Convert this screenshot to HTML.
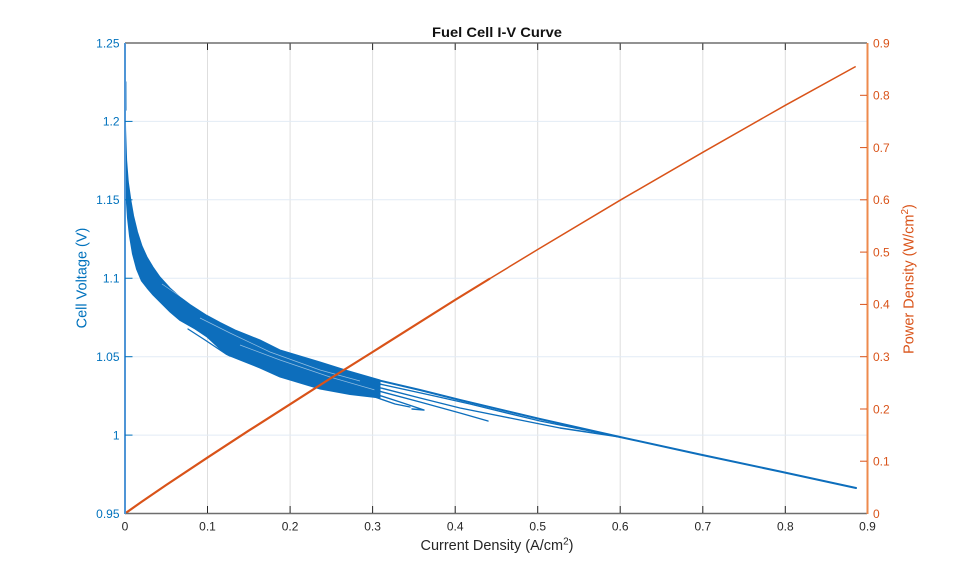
<!DOCTYPE html>
<html><head><meta charset="utf-8"><style>
html,body{margin:0;padding:0;background:#fff;}
svg{display:block;font-family:"Liberation Sans",Arial,sans-serif;}
</style></head><body>
<svg width="959" height="577" viewBox="0 0 959 577" xmlns="http://www.w3.org/2000/svg">
<rect width="959" height="577" fill="#fff"/>
<!-- grid -->
<g stroke="#dedede" stroke-width="1">
<line x1="207.5" y1="43" x2="207.5" y2="513.5"/>
<line x1="290.1" y1="43" x2="290.1" y2="513.5"/>
<line x1="372.6" y1="43" x2="372.6" y2="513.5"/>
<line x1="455.2" y1="43" x2="455.2" y2="513.5"/>
<line x1="537.7" y1="43" x2="537.7" y2="513.5"/>
<line x1="620.2" y1="43" x2="620.2" y2="513.5"/>
<line x1="702.8" y1="43" x2="702.8" y2="513.5"/>
<line x1="785.3" y1="43" x2="785.3" y2="513.5"/>
</g>
<g stroke="#e2ebf5" stroke-width="1">
<line x1="125" y1="435.1" x2="867" y2="435.1"/>
<line x1="125" y1="356.7" x2="867" y2="356.7"/>
<line x1="125" y1="278.25" x2="867" y2="278.25"/>
<line x1="125" y1="199.8" x2="867" y2="199.8"/>
<line x1="125" y1="121.4" x2="867" y2="121.4"/>
</g>
<!-- blue band -->
<g fill="#0d6ebc" stroke="#0d6ebc" stroke-linejoin="round">
<polygon stroke-width="1" points="125,95 125.6,130 126.6,160 128.3,182 130.8,200 133.6,216 137.5,232 142,246 147,257 153,267 160,277 170,288 180,297 190,304.5 200,311 207,315.5 220,322.5 235,330 250,336 260,340 280,350 300,356 320,362 347,370.5 380,380 380,398 350,394.5 320,389 300,383 280,377 260,368 240,360 230,356 220,349 207,337 195,329 180,320.5 170,312 160,302 153,295 147,288 141.5,281 136.5,269 132.5,254 129.5,236 127.5,218 126.3,200 125.6,175 125.2,140"/>
</g>
<!-- faint white streaks inside band -->
<g fill="none" stroke="#ffffff" stroke-opacity="0.55" stroke-width="0.7">
<polyline points="162,284 190,303 220,320 260,337 300,352"/>
<polyline points="200,318 230,333 270,352 320,370 360,381"/>
<polyline points="240,345 280,360 330,377 375,390"/>
</g>
<g fill="none" stroke="#0d6ebc" stroke-linejoin="round" stroke-linecap="round">
<polyline stroke-width="2" points="125.4,82 125.5,110"/>
<polyline stroke-width="2" points="375,379.5 420,390 460,400 540,419 620,437 700,454.5 780,471.5 856,488"/>
<polyline stroke-width="1.4" points="375,383 430,395 470,404 540,421 580,429 620,437"/>
<polyline stroke-width="1.4" points="375,386.5 420,398 460,408 510,418 560,428 620,437"/>
<polyline stroke-width="1.4" points="375,390 420,402 460,413 488,421"/>
<polyline stroke-width="1.4" points="375,394 400,402 424,410 412,409"/>
<polyline stroke-width="1.4" points="375,397 395,404 410,407"/>
<polyline stroke-width="1.3" points="188,329 205,340 226,354 230,356"/>
</g>
<!-- orange line -->
<polyline fill="none" stroke="#D95319" stroke-width="2.2" stroke-linejoin="round" points="125,513.5 141.5,501.9 166,485.1 207.5,457.6 248.8,430.6 290,404.3 331.4,377.8 372.6,352 455,300 490,278.5"/>
<polyline fill="none" stroke="#D95319" stroke-width="1.5" stroke-linejoin="round" points="489,279.1 537.7,249.5 620.2,200.2 702.8,152.3 785.3,105.3 855.7,66.5"/>
<!-- axes box -->
<line x1="125" y1="43" x2="867" y2="43" stroke="#6e6e6e" stroke-width="1.6"/>
<line x1="125" y1="513.5" x2="867" y2="513.5" stroke="#6e6e6e" stroke-width="1.6"/>
<line x1="125" y1="43" x2="125" y2="514" stroke="#4f95d6" stroke-width="2"/>
<line x1="867.5" y1="43" x2="867.5" y2="514" stroke="#ee8a4c" stroke-width="2"/>
<!-- x ticks -->
<g stroke="#262626" stroke-width="1">
<line x1="207.5" y1="513" x2="207.5" y2="506"/><line x1="207.5" y1="43.5" x2="207.5" y2="50"/>
<line x1="290.1" y1="513" x2="290.1" y2="506"/><line x1="290.1" y1="43.5" x2="290.1" y2="50"/>
<line x1="372.6" y1="513" x2="372.6" y2="506"/><line x1="372.6" y1="43.5" x2="372.6" y2="50"/>
<line x1="455.2" y1="513" x2="455.2" y2="506"/><line x1="455.2" y1="43.5" x2="455.2" y2="50"/>
<line x1="537.7" y1="513" x2="537.7" y2="506"/><line x1="537.7" y1="43.5" x2="537.7" y2="50"/>
<line x1="620.2" y1="513" x2="620.2" y2="506"/><line x1="620.2" y1="43.5" x2="620.2" y2="50"/>
<line x1="702.8" y1="513" x2="702.8" y2="506"/><line x1="702.8" y1="43.5" x2="702.8" y2="50"/>
<line x1="785.3" y1="513" x2="785.3" y2="506"/><line x1="785.3" y1="43.5" x2="785.3" y2="50"/>
</g>
<!-- left ticks -->
<g stroke="#0072BD" stroke-width="1">
<line x1="125" y1="435.1" x2="132.5" y2="435.1"/>
<line x1="125" y1="356.7" x2="132.5" y2="356.7"/>
<line x1="125" y1="278.25" x2="132.5" y2="278.25"/>
<line x1="125" y1="199.8" x2="132.5" y2="199.8"/>
<line x1="125" y1="121.4" x2="132.5" y2="121.4"/>
</g>
<!-- right ticks -->
<g stroke="#D95319" stroke-width="1">
<line x1="860" y1="461.2" x2="867" y2="461.2"/>
<line x1="860" y1="409" x2="867" y2="409"/>
<line x1="860" y1="356.7" x2="867" y2="356.7"/>
<line x1="860" y1="304.4" x2="867" y2="304.4"/>
<line x1="860" y1="252.1" x2="867" y2="252.1"/>
<line x1="860" y1="199.8" x2="867" y2="199.8"/>
<line x1="860" y1="147.6" x2="867" y2="147.6"/>
<line x1="860" y1="95.3" x2="867" y2="95.3"/>
</g>
<!-- x tick labels -->
<g font-size="12" fill="#262626" text-anchor="middle">
<text x="125" y="530.5">0</text>
<text x="207.5" y="530.5">0.1</text>
<text x="290.1" y="530.5">0.2</text>
<text x="372.6" y="530.5">0.3</text>
<text x="455.2" y="530.5">0.4</text>
<text x="537.7" y="530.5">0.5</text>
<text x="620.2" y="530.5">0.6</text>
<text x="702.8" y="530.5">0.7</text>
<text x="785.3" y="530.5">0.8</text>
<text x="867.5" y="530.5">0.9</text>
</g>
<!-- left tick labels -->
<g font-size="12" fill="#0072BD" text-anchor="end">
<text x="119.5" y="517.8">0.95</text>
<text x="119.5" y="439.4">1</text>
<text x="119.5" y="361">1.05</text>
<text x="119.5" y="282.5">1.1</text>
<text x="119.5" y="204.1">1.15</text>
<text x="119.5" y="125.7">1.2</text>
<text x="119.5" y="47.3">1.25</text>
</g>
<!-- right tick labels -->
<g font-size="12" fill="#D95319" text-anchor="start">
<text x="873" y="517.8">0</text>
<text x="873" y="465.5">0.1</text>
<text x="873" y="413.3">0.2</text>
<text x="873" y="361">0.3</text>
<text x="873" y="308.7">0.4</text>
<text x="873" y="256.4">0.5</text>
<text x="873" y="204.1">0.6</text>
<text x="873" y="151.9">0.7</text>
<text x="873" y="99.6">0.8</text>
<text x="873" y="47.3">0.9</text>
</g>
<!-- title -->
<text x="497" y="37" font-size="14" font-weight="bold" fill="#111" text-anchor="middle" textLength="130" lengthAdjust="spacingAndGlyphs">Fuel Cell I-V Curve</text>
<!-- x label -->
<text x="497" y="550" font-size="14.5" fill="#262626" text-anchor="middle">Current Density (A/cm<tspan dy="-5.5" font-size="10">2</tspan><tspan dy="5.5">)</tspan></text>
<!-- y labels -->
<text transform="translate(86.5,278) rotate(-90)" font-size="14.5" fill="#0072BD" text-anchor="middle">Cell Voltage (V)</text>
<text transform="translate(913.5,279) rotate(-90)" font-size="14.5" fill="#D95319" text-anchor="middle">Power Density (W/cm<tspan dy="-5.5" font-size="10">2</tspan><tspan dy="5.5">)</tspan></text>
</svg>
</body></html>
